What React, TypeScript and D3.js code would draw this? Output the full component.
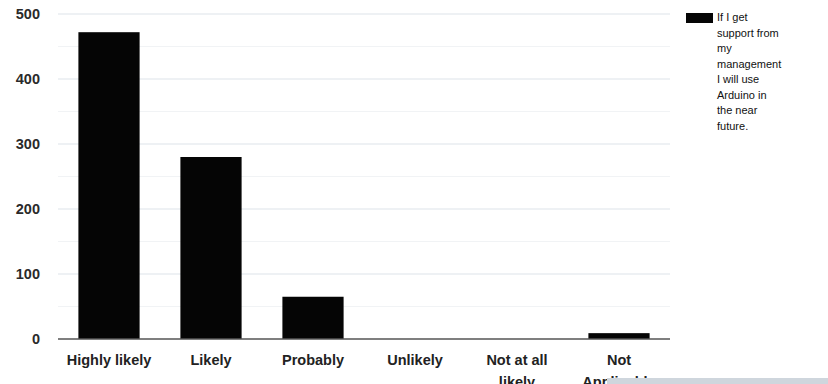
import React from "react";
import * as d3 from "d3";

const categories = ["Highly likely", "Likely", "Probably", "Unlikely", "Not at all likely", "Not Applicable"];
const labelLines = [["Highly likely"], ["Likely"], ["Probably"], ["Unlikely"], ["Not at all", "likely"], ["Not", "Applicable"]];
const values = [472, 280, 65, 0, 0, 9];
const yTicks = [0, 100, 200, 300, 400, 500];
const minorTicks = [50, 150, 250, 350, 450];
const legendLines = ["If I get", "support from", "my", "management", "I will use", "Arduino in", "the near", "future."];

const W = 828;
const H = 384;
const left = 58;
const right = 670;
const top = 14;
const bottom = 339;

export default function App() {
  const x = d3.scaleBand<string>().domain(categories).range([left, right]).paddingInner(0.4).paddingOuter(0.2);
  const y = d3.scaleLinear().domain([0, 500]).range([bottom, top]);
  const font = "'Liberation Sans', Arial, sans-serif";
  return (
    <svg width={W} height={H} style={{ position: "absolute", left: 0, top: 0, display: "block", background: "#fff", overflow: "hidden" }}>
      {minorTicks.map((t) => (
        <line key={"m" + t} x1={left} x2={right} y1={y(t)} y2={y(t)} stroke="#f1f3f5" strokeWidth={1} />
      ))}
      {yTicks.filter((t) => t > 0).map((t) => (
        <line key={"g" + t} x1={left} x2={right} y1={y(t)} y2={y(t)} stroke="#dde4ea" strokeWidth={1.2} />
      ))}
      {yTicks.map((t) => (
        <text key={"t" + t} x={40} y={y(t)} dy="0.36em" textAnchor="end" fontFamily={font} fontSize={14.5} fontWeight="bold" fill="#2a2a2a">
          {t}
        </text>
      ))}
      {categories.map((c, i) => (
        <rect key={c} x={x(c)} width={x.bandwidth()} y={y(values[i])} height={bottom - y(values[i])} fill="#050505" />
      ))}
      <line x1={left} x2={right} y1={bottom} y2={bottom} stroke="#555" strokeWidth={1.3} />
      {categories.map((c, i) => (
        <text key={"l" + c} x={(x(c) as number) + x.bandwidth() / 2} y={365} textAnchor="middle" fontFamily={font} fontSize={14.5} fontWeight="bold" fill="#222">
          {labelLines[i].map((ln, j) => (
            <tspan key={j} x={(x(c) as number) + x.bandwidth() / 2} dy={j === 0 ? 0 : 22}>
              {ln}
            </tspan>
          ))}
        </text>
      ))}
      <rect x={607} y={378} width={221} height={6} fill="#cfd6dd" />
      <rect x={686} y={13} width={27} height={10} fill="#050505" />
      <text fontFamily={font} fontSize={11} fill="#111">
        {legendLines.map((ln, i) => (
          <tspan key={i} x={717} y={21 + i * 15.5}>
            {ln}
          </tspan>
        ))}
      </text>
    </svg>
  );
}
